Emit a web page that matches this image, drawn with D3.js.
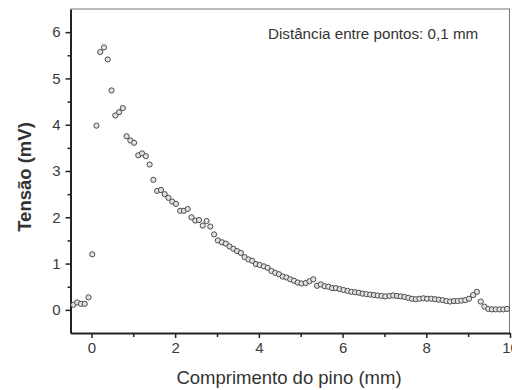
<!DOCTYPE html>
<html>
<head>
<meta charset="utf-8">
<script src="https://cdn.jsdelivr.net/npm/d3@7"></script>
<style>
  body { margin: 0; background: #fff; }
  svg { display: block; }
</style>
</head>
<body>
<svg id="chart" width="512" height="390"></svg>
<script>
// Posição ao longo do pino (mm)
const comprimento = [
  -0.43, -0.34, -0.25, -0.16, -0.07, 0.02, 0.12, 0.21, 0.30, 0.39,
  0.48, 0.57, 0.66, 0.75, 0.84, 0.93, 1.02, 1.12, 1.21, 1.30,
  1.39, 1.48, 1.57, 1.66, 1.75, 1.84, 1.93, 2.02, 2.12, 2.21,
  2.30, 2.39, 2.48, 2.57, 2.66, 2.75, 2.84, 2.93, 3.02, 3.12,
  3.21, 3.30, 3.39, 3.48, 3.57, 3.66, 3.75, 3.84, 3.93, 4.02,
  4.12, 4.21, 4.30, 4.39, 4.48, 4.57, 4.66, 4.75, 4.84, 4.93,
  5.02, 5.12, 5.21, 5.30, 5.39, 5.48, 5.57, 5.66, 5.75, 5.84,
  5.93, 6.02, 6.12, 6.21, 6.30, 6.39, 6.48, 6.57, 6.66, 6.75,
  6.84, 6.93, 7.02, 7.12, 7.21, 7.30, 7.39, 7.48, 7.57, 7.66,
  7.75, 7.84, 7.93, 8.02, 8.12, 8.21, 8.30, 8.39, 8.48, 8.57,
  8.66, 8.75, 8.84, 8.93, 9.02, 9.12, 9.21, 9.30, 9.39, 9.48,
  9.57, 9.66, 9.75, 9.84, 9.93
];

// Tensão medida em cada posição (mV)
const tensao = [
  0.11, 0.16, 0.13, 0.13, 0.27, 1.20, 3.98, 5.57, 5.67, 5.41,
  4.74, 4.20, 4.27, 4.36, 3.75, 3.66, 3.61, 3.34, 3.38, 3.32,
  3.14, 2.81, 2.57, 2.59, 2.50, 2.42, 2.34, 2.29, 2.14, 2.14,
  2.18, 2.00, 1.93, 1.94, 1.82, 1.92, 1.80, 1.63, 1.50, 1.46,
  1.43, 1.37, 1.32, 1.27, 1.23, 1.14, 1.09, 1.06, 0.99, 0.97,
  0.94, 0.91, 0.84, 0.80, 0.77, 0.72, 0.70, 0.66, 0.63, 0.59,
  0.57, 0.58, 0.62, 0.66, 0.52, 0.55, 0.51, 0.50, 0.47, 0.47,
  0.45, 0.43, 0.41, 0.39, 0.38, 0.37, 0.35, 0.34, 0.33, 0.32,
  0.31, 0.30, 0.29, 0.30, 0.31, 0.30, 0.29, 0.28, 0.26, 0.24,
  0.23, 0.24, 0.25, 0.24, 0.24, 0.23, 0.22, 0.21, 0.19, 0.18,
  0.19, 0.19, 0.20, 0.21, 0.24, 0.32, 0.39, 0.18, 0.07, 0.02,
  0.01, 0.01, 0.01, 0.01, 0.02
];

const xTicks = [0, 2, 4, 6, 8, 10];
const xMinorTicks = [1, 3, 5, 7, 9];
const yTicks = [0, 1, 2, 3, 4, 5, 6];
const yMinorTicks = [0.5, 1.5, 2.5, 3.5, 4.5, 5.5];

const xTitle = "Comprimento do pino (mm)";
const yTitle = "Tensão (mV)";
const nota = "Distância entre pontos: 0,1 mm";

const svg = d3.select("#chart");
const plot = { left: 70.5, right: 510, top: 9, bottom: 333 };

const x = d3.scaleLinear().domain([-0.5, 10]).range([plot.left, plot.right]);
const y = d3.scaleLinear().domain([-0.5, 6.5]).range([plot.bottom, plot.top]);

const font = "Arial, 'Liberation Sans', sans-serif";
const textColor = "#333";
const fmt = d3.format("d");

// Moldura superior e direita
svg.append("line")
  .attr("x1", plot.left).attr("x2", plot.right)
  .attr("y1", plot.top).attr("y2", plot.top)
  .attr("stroke", "#777").attr("stroke-width", 1);
svg.append("line")
  .attr("x1", plot.right - 0.5).attr("x2", plot.right - 0.5)
  .attr("y1", plot.top).attr("y2", plot.bottom)
  .attr("stroke", "#777").attr("stroke-width", 1);

// Eixo X
svg.append("g").attr("transform", `translate(0,${plot.bottom})`)
  .call(d3.axisBottom(x).tickValues(xTicks).tickFormat(fmt).tickSize(5).tickSizeOuter(0).tickPadding(4));
svg.append("g").attr("transform", `translate(0,${plot.bottom})`)
  .call(d3.axisBottom(x).tickValues(xMinorTicks).tickSize(4).tickSizeOuter(0).tickFormat(""))
  .select(".domain").remove();

// Eixo Y
svg.append("g").attr("transform", `translate(${plot.left},0)`)
  .call(d3.axisLeft(y).tickValues(yTicks).tickFormat(fmt).tickSize(5).tickSizeOuter(0).tickPadding(5));
svg.append("g").attr("transform", `translate(${plot.left},0)`)
  .call(d3.axisLeft(y).tickValues(yMinorTicks).tickSize(3).tickSizeOuter(0).tickFormat(""))
  .select(".domain").remove();

svg.selectAll(".domain").attr("stroke", "#222").attr("stroke-width", 2);
svg.selectAll(".tick line").attr("stroke", "#222").attr("stroke-width", 1.5);
svg.selectAll(".tick text")
  .attr("fill", "#3a3a3a")
  .style("font-family", font)
  .style("font-size", "15px");

// Pontos medidos
svg.append("g")
  .selectAll("circle")
  .data(comprimento.map((c, i) => [c, tensao[i]]))
  .join("circle")
  .attr("cx", d => x(d[0]))
  .attr("cy", d => y(d[1]))
  .attr("r", 2.6)
  .attr("fill", "#e2e2e2")
  .attr("stroke", "#4a4a4a")
  .attr("stroke-width", 1);

// Títulos dos eixos
svg.append("text")
  .attr("x", 289).attr("y", 384)
  .attr("text-anchor", "middle")
  .attr("fill", textColor)
  .style("font-family", font)
  .style("font-size", "18.5px")
  .text(xTitle);

svg.append("text")
  .attr("transform", "translate(31,177) rotate(-90)")
  .attr("text-anchor", "middle")
  .attr("fill", textColor)
  .style("font-family", font)
  .style("font-size", "18.5px")
  .style("font-weight", "bold")
  .text(yTitle);

// Anotação
svg.append("text")
  .attr("x", 268).attr("y", 39)
  .attr("fill", textColor)
  .style("font-family", font)
  .style("font-size", "15.2px")
  .text(nota);
</script>
</body>
</html>
